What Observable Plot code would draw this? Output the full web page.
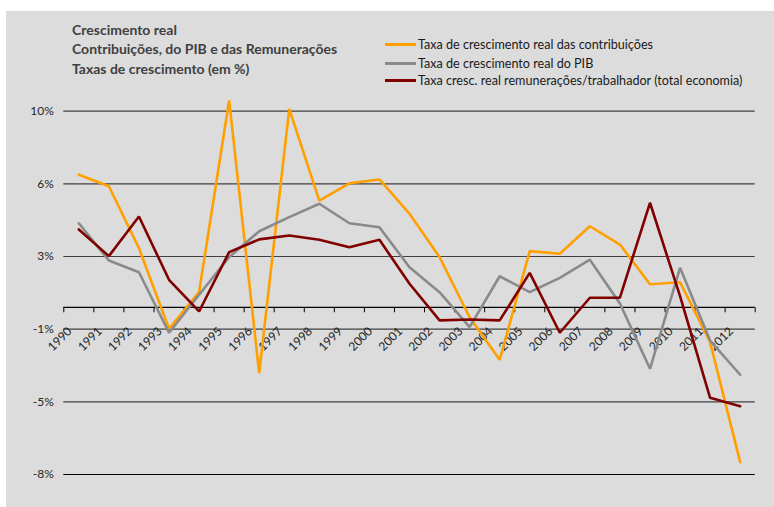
<!DOCTYPE html>
<html><head><meta charset="utf-8">
<script src="https://cdn.jsdelivr.net/npm/d3@7"></script>
<script src="https://cdn.jsdelivr.net/npm/@observablehq/plot@0.6"></script>
<style>
body{margin:0;background:#fff;font-family:Lato,"Open Sans",sans-serif;}
#wrap{position:relative;width:774px;height:507px;overflow:hidden}
#bg{position:absolute;left:6px;top:11px;right:0;bottom:0;background:#dcdcdc}
#chart{position:absolute;left:0;top:0}
#title{position:absolute;left:72px;top:19.8px;font-weight:bold;font-size:14px;line-height:19.5px;color:#404040;white-space:nowrap}
.legrow{position:absolute;left:385px;height:18px;line-height:18px;font-size:12.6px;color:#1a1a1a;white-space:nowrap}
.legrow .sw{position:absolute;left:0;top:7.5px;width:31px;height:2.5px}
.legrow .lt{position:absolute;left:33px;top:0}
</style></head>
<body><div id="wrap"><div id="bg"></div><div id="chart"></div><div id="title"></div><div id="legend"></div></div>
<script>
const years = [1990,1991,1992,1993,1994,1995,1996,1997,1998,1999,2000,2001,2002,2003,2004,2005,2006,2007,2008,2009,2010,2011,2012];
const contrib = [6.66,6.08,2.97,-1.08,0.76,10.39,-3.31,9.97,5.36,6.23,6.42,4.70,2.52,-0.5,-2.64,2.82,2.69,4.07,3.15,1.16,1.26,-1.75,-7.78];
const pib = [4.22,2.35,1.76,-1.28,0.63,2.52,3.82,4.53,5.20,4.22,4.02,2.01,0.76,-1.0,1.56,0.76,1.48,2.39,0.19,-3.09,1.98,-1.67,-3.39];
const remun = [3.91,2.57,4.56,1.38,-0.21,2.77,3.41,3.61,3.39,3.02,3.39,1.18,-0.66,-0.61,-0.66,1.73,-1.28,0.48,0.48,5.25,0.56,-4.55,-4.97];
const seriesNames = ["Taxa de crescimento real das contribuições","Taxa de crescimento real do PIB","Taxa cresc. real remunerações/trabalhador (total economia)"];
const seriesColors = ["#ffa000","#8a8a8a","#800000"];
const gridValues = [9.85,6.2,2.55,-1.1,-4.75,-8.4];
const tickLabels = ["10%","6%","3%","-1%","-5%","-8%"];
const titleLines = ["Crescimento real","Contribuições, do PIB e das Remunerações","Taxas de crescimento (em %)"];

const rows = [];
[contrib,pib,remun].forEach((vals,s)=>vals.forEach((v,i)=>rows.push({year:years[i],value:v,series:seriesNames[s]})));
const boundaries = [...years.map(y=>y-0.5), years[years.length-1]+0.5];
const tickSym = {draw(ctx){ctx.moveTo(0,0);ctx.lineTo(0,5);}};

const chart = Plot.plot({
  width:774,height:507,
  marginLeft:63.3,marginRight:19.3,marginTop:110.7,marginBottom:33,
  style:{background:"transparent",fontFamily:"Lato, 'Open Sans', sans-serif",fontSize:"12px",color:"#333"},
  x:{domain:[1989.5,2012.5],axis:null},
  y:{domain:[-8.4,9.85]},
  color:{domain:seriesNames,range:seriesColors},
  marks:[
    Plot.ruleY(gridValues.slice(0,-1),{stroke:"#404040",strokeWidth:1.2}),
    Plot.ruleY(gridValues.slice(-1),{stroke:"#000",strokeWidth:1.2}),
    Plot.axisY(gridValues,{tickFormat:d=>tickLabels[gridValues.indexOf(d)],tickSize:0,tickPadding:10,label:null,fontSize:12,fill:"#262626"}),
    Plot.ruleY([0],{stroke:"#000",strokeWidth:1.2}),
    Plot.dot(boundaries,{x:d=>d,y:()=>0,symbol:tickSym,stroke:"#000",strokeWidth:1,fill:"none",r:5}),
    Plot.text(years,{x:d=>d,y:()=>0,text:d=>String(d),rotate:-45,textAnchor:"end",dx:-9,dy:22,fontSize:12,fill:"#262626"}),
    Plot.lineY(rows,{x:"year",y:"value",z:"series",stroke:"series",strokeWidth:2.6,strokeLinejoin:"miter"})
  ]
});
document.getElementById("chart").appendChild(chart);

const t = document.getElementById("title");
titleLines.forEach(s=>{const d=document.createElement("div");d.textContent=s;t.appendChild(d);});
const legTops = [35.7,54.7,71.9];
const lg = document.getElementById("legend");
seriesNames.forEach((n,i)=>{
  const r=document.createElement("div");r.className="legrow";r.style.top=legTops[i]+"px";
  const sw=document.createElement("div");sw.className="sw";sw.style.background=seriesColors[i];
  const lt=document.createElement("div");lt.className="lt";lt.textContent=n;
  r.appendChild(sw);r.appendChild(lt);lg.appendChild(r);
});
</script></body></html>
